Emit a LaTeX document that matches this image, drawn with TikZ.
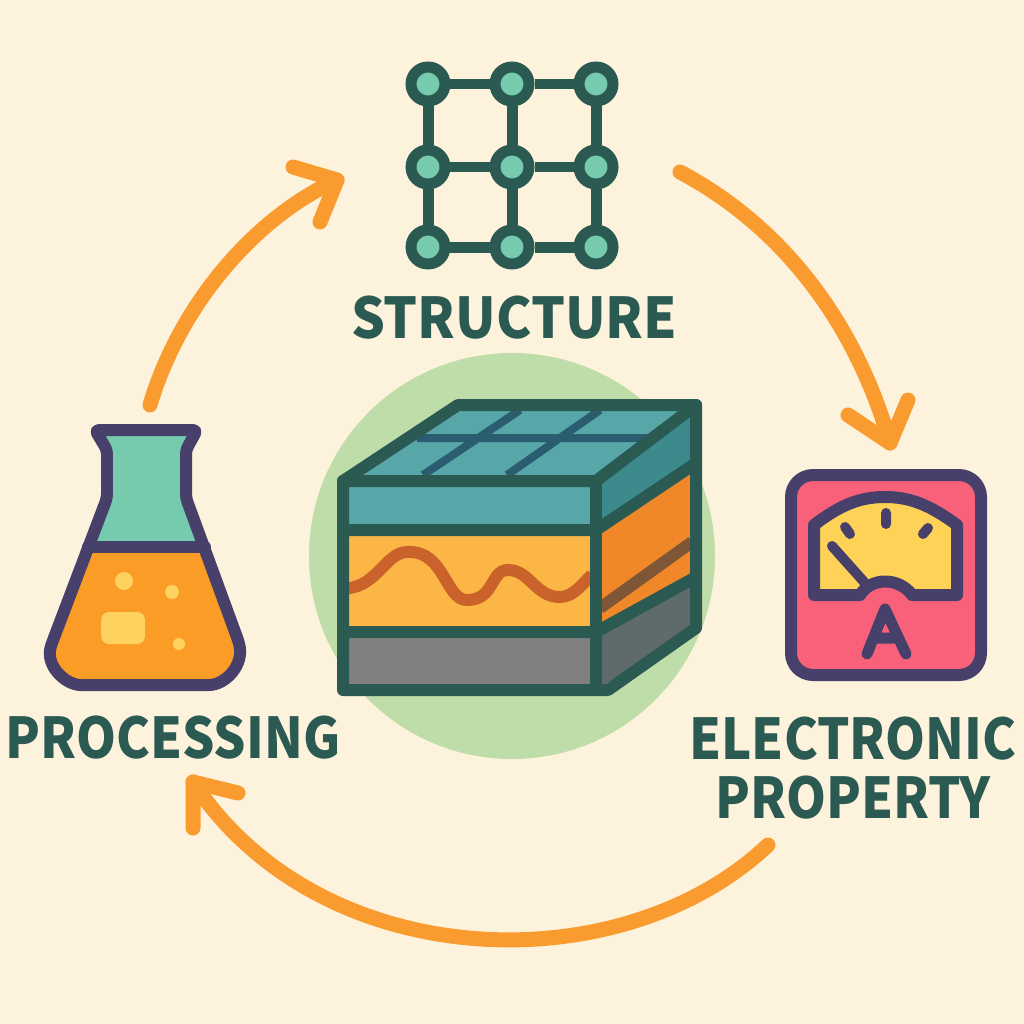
\documentclass[tikz,border=0pt]{standalone}
\usepackage{fontspec}
\newfontfamily\labfont{Noto Sans CJK SC}[FakeStretch=0.905]
\newfontfamily\labfontwide{Noto Sans CJK SC}[FakeStretch=0.947]
\definecolor{bg}{HTML}{FDF2DC}
\definecolor{frame}{HTML}{2B5A53}
\definecolor{ink}{HTML}{47406A}
\definecolor{orng}{HTML}{F99B2F}
\definecolor{mint}{HTML}{76CBAE}
\definecolor{halo}{HTML}{BFDDA8}
\definecolor{tealA}{HTML}{57A6A8}
\definecolor{tealB}{HTML}{3D8A8C}
\definecolor{gridln}{HTML}{2A5D70}
\definecolor{amber}{HTML}{FBB645}
\definecolor{sideor}{HTML}{F0882A}
\definecolor{wavec}{HTML}{C9622B}
\definecolor{brownb}{HTML}{7F5636}
\definecolor{grayA}{HTML}{808080}
\definecolor{grayB}{HTML}{5F6B6B}
\definecolor{pinkr}{HTML}{F9607A}
\definecolor{dial}{HTML}{FDD257}
\definecolor{flaskl}{HTML}{FB9C27}
\definecolor{blob}{HTML}{FDD25F}
\tikzset{
  px/.style={line width=#1*0.569pt},
  flow/.style={draw=orng,px=15,line cap=round,line join=round},
  inkline/.style={draw=ink,px=12,line cap=round,line join=round},
  cubeline/.style={draw=frame,px=12,line cap=round,line join=round},
  lattice/.style={draw=frame,px=11},
  atom/.style={circle,draw=frame,fill=mint,px=11,minimum size=34*0.569pt,inner sep=0pt},
  lab/.style={text=frame,font=\labfont\bfseries\fontsize{32}{34}\selectfont,align=center,inner sep=0pt},
  labwide/.style={text=frame,font=\labfontwide\bfseries\fontsize{32}{34}\selectfont,align=center,inner sep=0pt},
}
\begin{document}
\begin{tikzpicture}[x=0.02cm,y=-0.02cm]
\useasboundingbox (0,0) rectangle (1024,1024);
\fill[bg] (0,0) rectangle (1024,1024);
% halo
\fill[halo] (512,556) circle (203);
% lattice
\foreach \n/\x/\y in {a/428/84,b/512/84,c/596/84,d/428/167,e/512/167,f/596/167,g/428/247,h/512/247,i/596/247}
  \node[atom] (\n) at (\x,\y) {};
\foreach \p/\q in {a/b,b/c,d/e,e/f,g/h,h/i,a/d,d/g,b/e,e/h,c/f,f/i}
  \draw[lattice] (\p) -- (\q);
% labels
\node[labwide] (ls) at (514,318) {STRUCTURE};
\node[lab] (lp) at (173,738) {PROCESSING};
\node[lab] (le) at (853,768) {ELECTRONIC\\PROPERTY};
% arrows
\coordinate (a1s) at (150,405); \coordinate (a1e) at (337,180);
\coordinate (a2s) at (680,172); \coordinate (a2e) at (890,443);
\coordinate (a3s) at (768,845); \coordinate (a3e) at (193,782);
\draw[flow] (a1s) .. controls (178,310) and (250,220) .. (a1e);
\draw[flow] (293,167) -- (a1e) -- (320,222);
\draw[flow] (a2s) .. controls (780,225) and (855,320) .. (a2e);
\draw[flow] (848,415) -- (a2e) -- (908,400);
\draw[flow] (a3s) .. controls (620,985) and (320,975) .. (a3e);
\draw[flow] (238,793) -- (a3e) -- (193,828);
% cube
\fill[tealA] (343,481) -- (458,405) -- (696,405) -- (596,481) -- cycle;
\draw[gridln,px=8] (417,438) -- (647,438) (423,475) -- (520,410) (507,475) -- (600,410);
\fill[tealA] (343,481) rectangle (596,530);
\fill[amber] (343,530) rectangle (596,632);
\fill[grayA] (343,632) rectangle (596,690);
\fill[tealB] (596,481) -- (696,405) -- (696,463) -- (596,530) -- cycle;
\fill[sideor] (596,530) -- (696,463) -- (696,577) -- (596,632) -- cycle;
\fill[grayB] (596,632) -- (696,577) -- (696,628) -- (596,690) -- cycle;
\draw[brownb,px=12] (600,608) -- (692,542);
\begin{scope}
\clip (343,530) rectangle (590,632);
\draw[wavec,px=12] (340,588) .. controls (375,592) and (385,552) .. (407,552) .. controls (445,550) and (445,600) .. (467,600) .. controls (495,600) and (490,570) .. (508,570) .. controls (530,570) and (535,597) .. (560,597) .. controls (575,597) and (585,580) .. (592,575);
\end{scope}
\draw[cubeline] (343,481) -- (458,405) -- (696,405) -- (696,628) -- (608,690) -- (343,690) -- cycle;
\draw[cubeline] (343,481) -- (596,481) -- (696,405);
\draw[cubeline] (343,530) -- (596,530) -- (696,463);
\draw[cubeline] (343,632) -- (596,632) -- (696,577);
\draw[cubeline] (596,481) -- (596,690);
% meter
\draw[inkline,fill=pinkr,rounded corners=22*0.569pt] (791,475) rectangle (981,675);
\draw[inkline,fill=dial] (814,525) .. controls (840,505) and (860,497) .. (885,497) .. controls (910,497) and (930,505) .. (957,525) -- (957,595) -- (912,595) .. controls (900,578) and (872,576) .. (860,595) -- (814,595) -- cycle;
\draw[inkline,px=10] (832,546) -- (865,583);
\draw[inkline,px=10] (845,527) -- (850,534) (886,513) -- (886,524) (928,528) -- (923,534);
\draw[inkline,px=11] (867,654) -- (885,609) -- (906,654) (875,638) -- (898,638);
% flask
\fill[mint] (95,430) -- (197,430) -- (186,450) -- (186,498) -- (210,547) -- (82,547) -- (107,498) -- (107,450) -- cycle;
\fill[flaskl] (82,547) -- (210,547) -- (238,650) .. controls (242,670) and (225,685) .. (210,685) -- (80,685) .. controls (60,685) and (45,665) .. (52,643) -- cycle;
\fill[blob] (124,581) circle (9) (172,592) circle (7) (179,644) circle (6);
\fill[blob,rounded corners=8*0.569pt] (101,612) rectangle (145,644);
\draw[inkline,rounded corners=4*0.569pt] (95,430) -- (197,430) -- (186,450) -- (186,498) -- (238,640) .. controls (245,665) and (225,685) .. (205,685) -- (85,685) .. controls (65,685) and (45,665) .. (52,643) -- (107,498) -- (107,450) -- cycle;
\draw[inkline] (88,547) -- (205,547);
\end{tikzpicture}
\end{document}
